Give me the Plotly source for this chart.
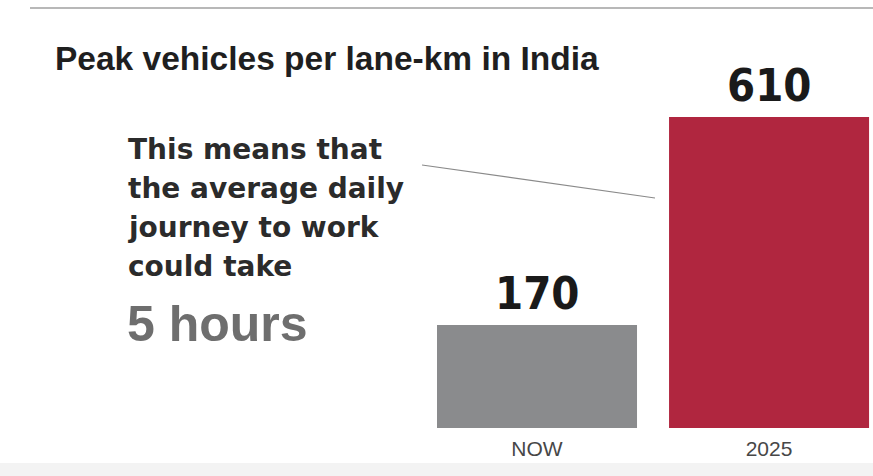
import plotly.graph_objects as go
import numpy as np

# Data
CATEGORIES = ['NOW', '2025']
VALUES = [170, 610]
BAR_COLORS = ['#8a8b8d', '#b0263f']

TITLE = 'Peak vehicles per lane-km in India'
NOTE_LINES = ['This means that', 'the average daily', 'journey to work', 'could take']
NOTE_HIGHLIGHT = '5 hours'

W, H = 873, 476
BAR_FLOOR = -48  # bars in the original graphic start below zero


def px(x):
    return x / W


def py(y):
    return 1 - y / H


fig = go.Figure()

fig.add_trace(go.Bar(
    x=CATEGORIES,
    y=[v - BAR_FLOOR for v in VALUES],
    base=BAR_FLOOR,
    marker=dict(color=BAR_COLORS, line=dict(width=0)),
    width=0.862,
    hoverinfo='skip',
))

# value labels above bars
for i, val in enumerate(VALUES):
    fig.add_annotation(
        x=i, y=val, xref='x', yref='y',
        text=str(val),
        showarrow=False,
        yanchor='bottom', yshift=3,
        font=dict(family='DejaVu Sans Condensed, Liberation Sans, sans-serif',
                  size=45, color='#1a1a1a', weight='bold'),
    )

# title
fig.add_annotation(
    x=px(53), y=py(58), xref='paper', yref='paper',
    text=TITLE, showarrow=False,
    xanchor='left', yanchor='middle',
    font=dict(family='Liberation Sans, Arial, sans-serif', size=33.5,
              color='#1f1f1f', weight='bold'),
)

# explanatory note, one annotation per line
for i, line in enumerate(NOTE_LINES):
    fig.add_annotation(
        x=px(126), y=py(149 + i * 39.3), xref='paper', yref='paper',
        text=line, showarrow=False,
        xanchor='left', yanchor='middle',
        font=dict(family='DejaVu Sans, sans-serif', size=28,
                  color='#2b2b2b', weight='bold'),
    )

fig.add_annotation(
    x=px(125), y=py(324), xref='paper', yref='paper',
    text=NOTE_HIGHLIGHT, showarrow=False,
    xanchor='left', yanchor='middle',
    font=dict(family='Liberation Sans, Arial, sans-serif', size=50,
              color='#6e6e6e', weight='bold'),
)

# leader line, top rule and bottom strip
fig.add_shape(type='line', xref='paper', yref='paper',
              x0=px(422), y0=py(165), x1=px(655), y1=py(198),
              line=dict(color='#8a8a8a', width=1.2))
fig.add_shape(type='line', xref='paper', yref='paper',
              x0=px(30), y0=py(8), x1=1, y1=py(8),
              line=dict(color='#b8b8b8', width=2))
fig.add_shape(type='rect', xref='paper', yref='paper',
              x0=0, y0=0, x1=1, y1=py(463),
              fillcolor='#f3f3f3', line=dict(width=0), layer='below')

fig.update_layout(
    width=W, height=H,
    margin=dict(l=0, r=0, t=0, b=0),
    paper_bgcolor='white',
    plot_bgcolor='white',
    showlegend=False,
    xaxis=dict(
        type='category',
        domain=[400 / W, 1],
        range=[-0.5905, 1.448],
        showgrid=False, zeroline=False, showline=False,
        ticks='', ticklabelstandoff=6,
        tickfont=dict(family='Liberation Sans Narrow, Liberation Sans, sans-serif',
                      size=21, color='#474747'),
    ),
    yaxis=dict(
        domain=[48 / H, 1],
        range=[BAR_FLOOR, 857.5],
        showgrid=False, zeroline=False, showline=False,
        showticklabels=False,
    ),
)

fig.write_html('out.html', config={'displayModeBar': False},
               post_script="document.body.style.margin='0';")
